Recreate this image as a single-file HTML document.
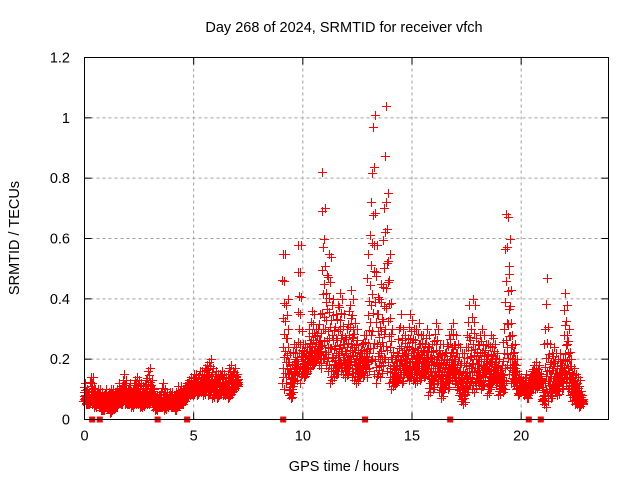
<!DOCTYPE html>
<html><head><meta charset="utf-8"><style>
body{margin:0;background:#fff}
svg{display:block;font-family:"Liberation Sans",sans-serif}
</style></head><body>
<svg id="chart" width="640" height="480" xmlns="http://www.w3.org/2000/svg">
<text x="344" y="32" font-size="14.5" text-anchor="middle">Day 268 of 2024, SRMTID for receiver vfch</text>
<text transform="translate(19,238) rotate(-90)" font-size="14.5" text-anchor="middle">SRMTID / TECUs</text>
<text x="344" y="471" font-size="14.5" text-anchor="middle">GPS time / hours</text>
<g id="grid"></g>
<g id="ticks"></g>
<g id="marks"></g>
<g id="gaps"></g>
<rect x="84.5" y="57.5" width="524" height="362" fill="none" stroke="#000" stroke-width="1"/>
</svg>
<script>
const xTicks=[0,5,10,15,20];
const yTicks=[0,0.2,0.4,0.6,0.8,1,1.2];
const yTickLabels=["0","0.2","0.4","0.6","0.8","1","1.2"];
const segAStart=0.0;
const segAUpper=[0.12,0.10,0.09,0.14,0.14,0.10,0.10,0.10,0.09,0.08,
0.10,0.09,0.10,0.10,0.09,0.10,0.12,0.11,0.15,0.13,
0.10,0.12,0.10,0.13,0.14,0.13,0.12,0.11,0.13,0.16,
0.17,0.13,0.10,0.08,0.08,0.09,0.12,0.10,0.09,0.09,
0.09,0.08,0.09,0.11,0.11,0.10,0.11,0.12,0.13,0.14,
0.15,0.15,0.14,0.16,0.16,0.17,0.18,0.19,0.20,0.17,
0.16,0.15,0.15,0.16,0.15,0.14,0.17,0.18,0.16,0.17,0.15];
const segALower=[0.06,0.05,0.05,0.06,0.05,0.04,0.05,0.04,0.03,0.03,
0.04,0.04,0.02,0.03,0.04,0.04,0.05,0.05,0.06,0.05,
0.05,0.05,0.04,0.05,0.05,0.05,0.04,0.04,0.05,0.05,
0.05,0.06,0.04,0.03,0.04,0.04,0.04,0.03,0.04,0.05,
0.04,0.04,0.03,0.04,0.05,0.05,0.06,0.07,0.08,0.08,
0.08,0.09,0.08,0.09,0.09,0.08,0.10,0.08,0.09,0.07,
0.08,0.07,0.08,0.09,0.08,0.08,0.07,0.08,0.09,0.10,0.11];
const segBStart=9.1;
const segBUpper=[0.55,0.55,0.40,0.22,0.18,0.25,0.24,0.58,0.58,0.25,
0.25,0.24,0.30,0.36,0.35,0.30,0.30,0.35,0.82,0.70,
0.48,0.55,0.54,0.40,0.35,0.38,0.42,0.40,0.35,0.30,
0.36,0.43,0.40,0.32,0.30,0.22,0.25,0.28,0.28,0.55,
0.72,0.97,1.01,0.58,0.40,0.45,0.70,1.04,0.75,0.55,
0.30,0.20,0.22,0.30,0.35,0.30,0.28,0.27,0.35,0.33,
0.30,0.30,0.32,0.28,0.28,0.25,0.30,0.28,0.25,0.26,
0.32,0.30,0.25,0.25,0.22,0.25,0.28,0.30,0.32,0.28,
0.25,0.24,0.22,0.22,0.28,0.38,0.30,0.40,0.38,0.25,
0.28,0.30,0.28,0.25,0.25,0.28,0.27,0.25,0.22,0.20,
0.18,0.30,0.68,0.67,0.60,0.28,0.25,0.20,0.15,0.14,
0.13,0.15,0.12,0.14,0.16,0.18,0.19,0.18,0.15,0.12,
0.30,0.47,0.25,0.22,0.24,0.22,0.20,0.22,0.20,0.42,
0.38,0.30,0.20,0.17,0.15,0.14,0.13,0.08];
const segBLower=[0.12,0.10,0.14,0.08,0.07,0.12,0.15,0.13,0.12,0.15,
0.14,0.15,0.18,0.17,0.18,0.19,0.20,0.18,0.17,0.20,
0.18,0.16,0.12,0.13,0.14,0.15,0.18,0.16,0.15,0.14,
0.15,0.18,0.14,0.13,0.12,0.14,0.15,0.14,0.16,0.14,
0.17,0.20,0.15,0.12,0.15,0.14,0.18,0.20,0.16,0.12,
0.10,0.11,0.12,0.13,0.14,0.12,0.15,0.14,0.13,0.14,
0.13,0.12,0.14,0.13,0.15,0.14,0.15,0.08,0.12,0.10,
0.14,0.12,0.09,0.07,0.10,0.12,0.10,0.14,0.13,0.12,
0.10,0.08,0.06,0.05,0.08,0.10,0.12,0.10,0.09,0.12,
0.12,0.10,0.11,0.15,0.08,0.10,0.12,0.13,0.12,0.08,
0.10,0.09,0.10,0.18,0.15,0.12,0.12,0.10,0.08,0.09,
0.10,0.08,0.07,0.09,0.10,0.12,0.10,0.11,0.12,0.06,
0.05,0.04,0.08,0.07,0.10,0.09,0.08,0.12,0.10,0.14,
0.12,0.10,0.08,0.06,0.05,0.05,0.04,0.05];
const gapHours=[0.35,0.7,3.35,4.7,9.1,12.85,16.75,20.35,20.9];

const X0=84.5,X1=608.5,Y0=419.5,Y1=57.5,XMAX=24,YMAX=1.2;
const xs=h=>X0+(X1-X0)*h/XMAX;
const ys=v=>Y0-(Y0-Y1)*v/YMAX;
const NS="http://www.w3.org/2000/svg";
const grid=document.getElementById('grid'),ticks=document.getElementById('ticks');
function mk(tag,attrs,parent){const e=document.createElementNS(NS,tag);for(const k in attrs)e.setAttribute(k,attrs[k]);parent.appendChild(e);return e;}
yTicks.forEach((v,i)=>{
  if(v>0&&v<YMAX){const g=mk('line',{x1:X0,x2:X1,y1:ys(v),y2:ys(v),stroke:'#a0a0a0','stroke-dasharray':'3,3'},grid);
  
  }
  const t1=mk('line',{x1:X0,x2:X0+7,y1:ys(v),y2:ys(v),stroke:'#000'},ticks);
  
  
  const t2=mk('line',{x1:X1-7,x2:X1,y1:ys(v),y2:ys(v),stroke:'#000'},ticks);
  
  
  const tx=mk('text',{x:70,y:ys(v)+5,'font-size':14.5,'text-anchor':'end'},ticks);
  tx.textContent=yTickLabels[i];
  
  
});
xTicks.forEach(h=>{
  if(h>0){const g=mk('line',{x1:xs(h),x2:xs(h),y1:Y0,y2:Y1,stroke:'#a0a0a0','stroke-dasharray':'3,3'},grid);
  
  }
  const t1=mk('line',{x1:xs(h),x2:xs(h),y1:Y0,y2:Y0-7,stroke:'#000'},ticks);
  
  
  const t2=mk('line',{x1:xs(h),x2:xs(h),y1:Y1,y2:Y1+7,stroke:'#000'},ticks);
  
  
  const tx=mk('text',{x:xs(h),y:Y0+21,'font-size':14.5,'text-anchor':'middle'},ticks);
  tx.textContent=String(h);
  
  
});
const marks=document.getElementById('marks');
const fr=[0,0.05,0.12,0.2,0.28,0.38,0.5,0.62,0.8,1];
const dt=[0.0,0.06,0.02,0.08,0.04,0.09,0.03,0.07,0.01,0.05];
let d='';
function seg(start,up,lo){
  for(let i=0;i<up.length;i++){
    for(let k=0;k<fr.length;k++){
      const h=start+i*0.1+dt[k]-0.05;
      const v=lo[i]+(up[i]-lo[i])*fr[k];
      const x=Math.round(xs(h))+0.5,y=Math.round(ys(v))+0.5;
      d+=`M${x-4.5} ${y}h9M${x} ${y-4.5}v9`;
    }
  }
}
seg(segAStart,segAUpper,segALower);
seg(segBStart,segBUpper,segBLower);
const p=mk('path',{d:d,stroke:'#ff0000','stroke-width':1.2,fill:'none','shape-rendering':'crispEdges'},marks);


const gaps=document.getElementById('gaps');
gapHours.forEach(h=>{
  const r=mk('rect',{x:xs(h)-3,y:Y0-3,width:6,height:6,fill:'#ff0000'},gaps);
  
  
});
</script>
</body></html>
